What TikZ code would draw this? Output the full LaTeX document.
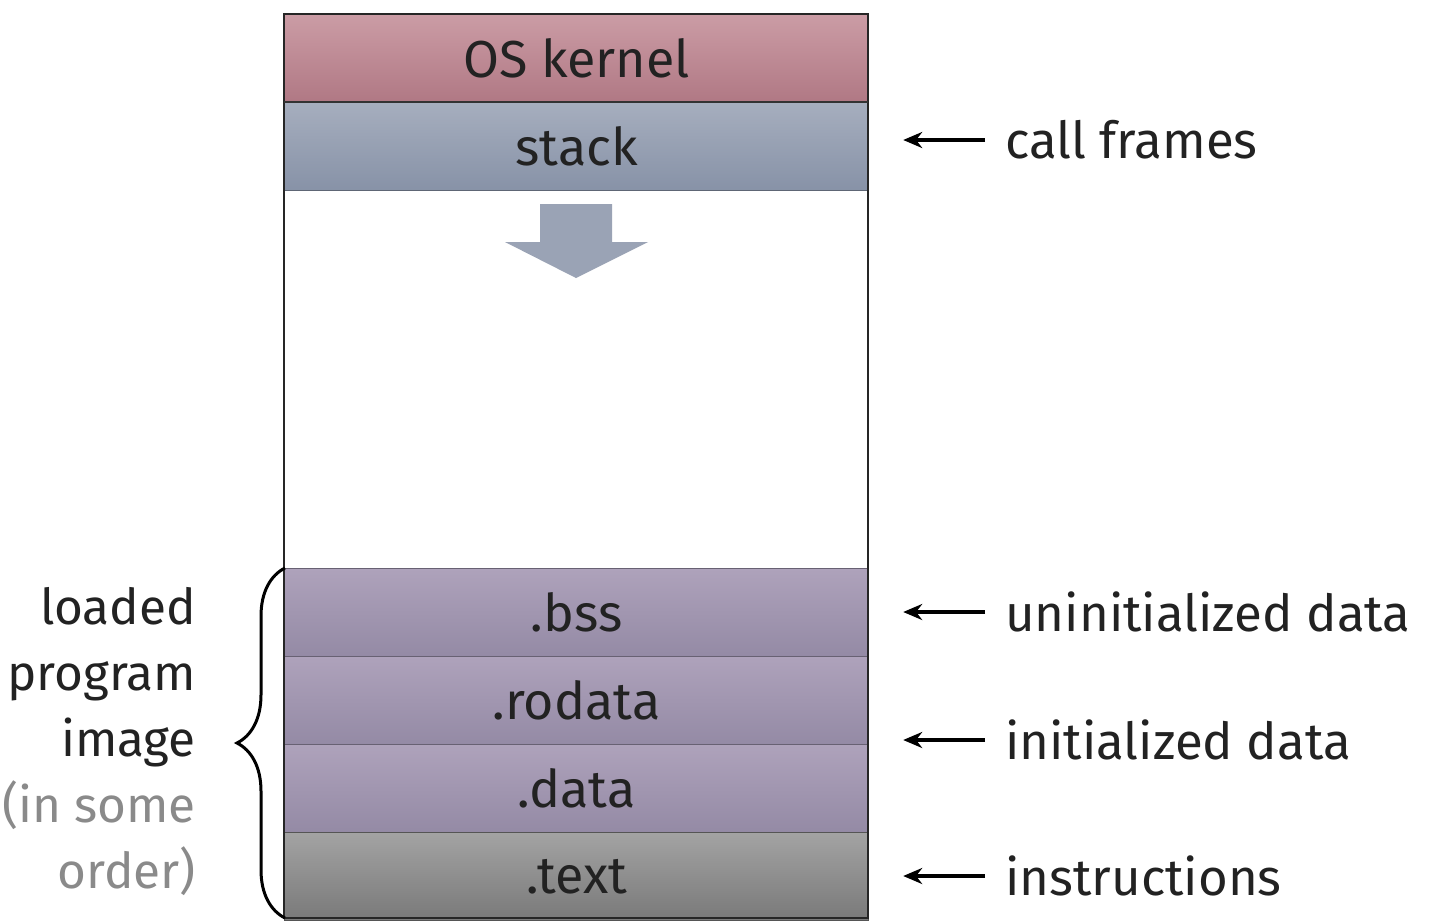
\documentclass[tikz,border=0pt]{standalone}
\usepackage{fontspec}
\setmainfont{Fira Sans}
\usetikzlibrary{arrows.meta,decorations.pathreplacing,calc}
\definecolor{kerntop}{HTML}{CB9CA5}
\definecolor{kernbot}{HTML}{B07884}
\definecolor{stacktop}{HTML}{A6AEBE}
\definecolor{stackbot}{HTML}{8792A7}
\definecolor{purtop}{HTML}{AEA2BB}
\definecolor{purbot}{HTML}{948AA5}
\definecolor{texttop}{HTML}{A3A3A3}
\definecolor{textbot}{HTML}{797979}
\definecolor{arrfill}{HTML}{9AA3B5}
\definecolor{graytext}{HTML}{8A8A8A}
\definecolor{txt}{HTML}{222222}
\tikzset{
  seg/.style={minimum width=584pt, minimum height=88pt, inner sep=0pt, anchor=north west,
    draw=#1!70!black, line width=1.2pt, font=\fontsize{52}{62}\selectfont, text=txt},
  lab/.style={anchor=west, inner sep=0pt, font=\fontsize{51}{62}\selectfont, text=txt},
  leftlab/.style={anchor=east, inner sep=0pt, align=right, font=\fontsize{49.5}{66}\selectfont, text=txt},
  ptr/.style={line width=3.8pt, -{Stealth[length=19pt,width=16pt]}, shorten <=20pt, shorten >=34pt, draw=black}
}
\begin{document}
\begin{tikzpicture}[x=1pt,y=-1pt]
\useasboundingbox (0,0) rectangle (1436,922);
\fill[white] (0,0) rectangle (1436,922);
% whole box
\node[seg=white, fill=white, minimum height=904pt, draw=none] (whole) at (284,14) {};
\node[seg=kernbot, top color=kerntop, bottom color=kernbot] (kern) at (284,14) {OS kernel};
\node[seg=stackbot, top color=stacktop, bottom color=stackbot] (stack) at (284,102) {stack};
\node[seg=purbot, top color=purtop, bottom color=purbot] (bss) at (284,568) {.bss};
\node[seg=purbot, top color=purtop, bottom color=purbot] (rodata) at (284,656) {.rodata};
\node[seg=purbot, top color=purtop, bottom color=purbot] (data) at (284,744) {.data};
\node[seg=textbot, top color=texttop, bottom color=textbot] (text) at (284,832) {.text};
\draw[line width=2pt, draw=black!85] (284,14) rectangle (868,918);
\draw[line width=2.5pt, draw=black!80] (284,102) -- (868,102);
% growth arrow
\fill[arrfill] (540,204) -- (612,204) -- (612,242) -- (648,242) -- (576,278) -- (505,242) -- (540,242) -- cycle;
% right labels
\node[lab] (callf) at (1005,140) {call frames};
\node[lab] (uninit) at (1005,612) {uninitialized data};
\node[lab] (init) at (1005,740) {initialized data};
\node[lab] (instr) at (1005,876) {instructions};
\draw[ptr] (callf.west) -- (callf.west -| stack.east);
\draw[ptr] (uninit.west) -- (uninit.west -| bss.east);
\draw[ptr] (init.west) -- (init.west -| data.east);
\draw[ptr] (instr.west) -- (instr.west -| text.east);
% left label
\node[leftlab] (loaded) at (196,742) {loaded\\ program\\ image\\ \textcolor{graytext}{(in some}\\ \textcolor{graytext}{order)}};
\draw[line width=3pt, decorate, decoration={brace, amplitude=48pt}] (285,918) -- (285,568) coordinate (bracetop);
\end{tikzpicture}
\end{document}
